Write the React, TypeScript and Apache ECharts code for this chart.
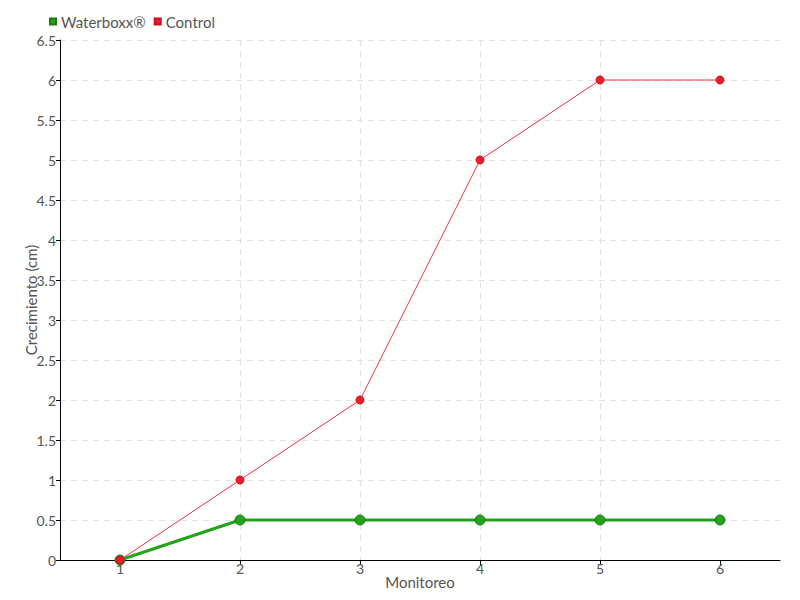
import React, { useEffect, useRef } from "react";
import * as echarts from "echarts";

const categories = [1, 2, 3, 4, 5, 6];
const waterboxx = [0, 0.5, 0.5, 0.5, 0.5, 0.5];
const control = [0, 1, 2, 5, 6, 6];

const FONT = "Lato, 'DejaVu Sans', sans-serif";

export default function App() {
  const ref = useRef<HTMLDivElement>(null);
  useEffect(() => {
    if (!ref.current) return;
    const chart = echarts.init(ref.current, undefined, { renderer: "svg" });
    chart.setOption({
      animation: false,
      backgroundColor: "#ffffff",
      textStyle: { fontFamily: FONT },
      legend: {
        left: 44,
        top: 9,
        itemWidth: 6,
        itemHeight: 6,
        itemGap: 8,
        icon: "rect",
        textStyle: { fontSize: 15, color: "#555", fontFamily: FONT },
        data: ["Waterboxx®", "Control"],
      },
      grid: { left: 60, right: 20, top: 40, bottom: 40 },
      xAxis: {
        type: "value",
        min: 0.5,
        max: 6.5,
        interval: 1,
        name: "Monitoreo",
        nameLocation: "middle",
        nameGap: 14,
        nameMoveOverlap: false,
        nameTextStyle: { fontSize: 15, color: "#555", fontFamily: FONT },
        axisLine: { lineStyle: { color: "#000", width: 1 } },
        axisTick: { show: true, length: 5, lineStyle: { color: "#000" }, customValues: categories },
        axisLabel: { customValues: categories, fontSize: 14, color: "#555", margin: 1, fontFamily: FONT },
        splitLine: {
          show: true,
          showMinLine: false,
          showMaxLine: false,
          lineStyle: { color: "#e2e2e2", type: [6, 5] },
        },
      },
      yAxis: {
        type: "value",
        min: 0,
        max: 6.5,
        interval: 0.5,
        name: "Crecimiento (cm)",
        nameLocation: "middle",
        nameGap: 22,
        nameMoveOverlap: false,
        nameTextStyle: { fontSize: 15, color: "#555", fontFamily: FONT },
        axisLine: { show: true, lineStyle: { color: "#000", width: 1 } },
        axisTick: { show: true, length: 4, lineStyle: { color: "#000" } },
        axisLabel: { fontSize: 14, color: "#555", margin: 4, fontFamily: FONT },
        splitLine: { show: true, lineStyle: { color: "#e2e2e2", type: [6, 5] } },
      },
      series: [
        {
          name: "Waterboxx®",
          type: "line",
          data: categories.map((c, i) => [c, waterboxx[i]]),
          color: "#22a31a",
          lineStyle: { width: 3, color: "#22a31a" },
          symbol: "circle",
          symbolSize: 10,
          itemStyle: { color: "#22a31a", borderColor: "#1a7a14", borderWidth: 1 },
          z: 2,
        },
        {
          name: "Control",
          type: "line",
          data: categories.map((c, i) => [c, control[i]]),
          color: "#ee1c2a",
          lineStyle: { width: 1, color: "#f23040" },
          symbol: "circle",
          symbolSize: 8,
          itemStyle: { color: "#ee1c2a", borderColor: "#c8101e", borderWidth: 1 },
          z: 3,
        },
      ],
    });
    return () => chart.dispose();
  }, []);
  return <div ref={ref} style={{ width: 800, height: 600, position: "absolute", left: 0, top: 0 }} />;
}
